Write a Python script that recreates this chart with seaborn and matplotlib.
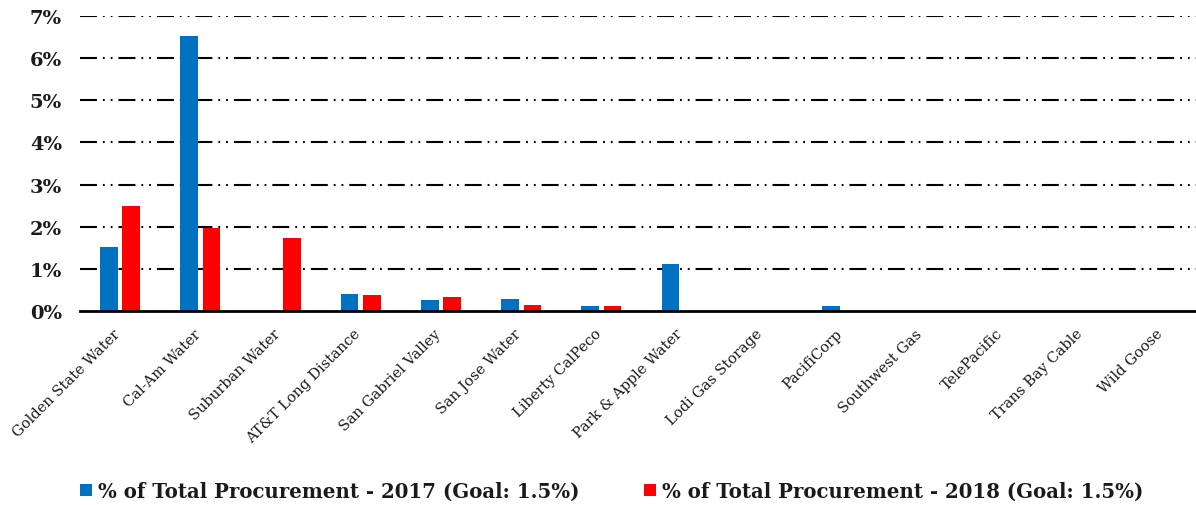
import matplotlib
matplotlib.use("Agg")
import matplotlib.pyplot as plt
import matplotlib.transforms as mtransforms
import seaborn as sns
import pandas as pd
from matplotlib.ticker import FuncFormatter

categories = ["Golden State Water", "Cal-Am Water", "Suburban Water", "AT&T Long Distance",
              "San Gabriel Valley", "San Jose Water", "Liberty CalPeco", "Park & Apple Water",
              "Lodi Gas Storage", "PacifiCorp", "Southwest Gas", "TelePacific",
              "Trans Bay Cable", "Wild Goose"]
series_names = ["% of Total Procurement - 2017 (Goal: 1.5%)",
                "% of Total Procurement - 2018 (Goal: 1.5%)"]
values_2017 = [1.53, 6.53, 0.0, 0.40, 0.26, 0.29, 0.13, 1.12, 0.0, 0.13, 0.0, 0.0, 0.0, 0.0]
values_2018 = [2.49, 1.97, 1.73, 0.37, 0.33, 0.14, 0.11, 0.0, 0.0, 0.0, 0.0, 0.0, 0.0, 0.0]
y_ticks = [0, 1, 2, 3, 4, 5, 6, 7]
colors = ["#0070C0", "#FF0000"]

df = pd.DataFrame({
    "company": categories * 2,
    "series": [series_names[0]] * len(categories) + [series_names[1]] * len(categories),
    "value": values_2017 + values_2018,
})

sns.set_theme(style="white")
plt.rcParams["font.family"] = ["DejaVu Serif"]
plt.rcParams["lines.scale_dashes"] = False

fig = plt.figure(figsize=(11.96, 5.06), dpi=100)
ax = fig.add_axes([80 / 1196, (506 - 312) / 506, 1123 / 1196, 295 / 506])

sns.barplot(data=df, x="company", y="value", hue="series", palette=colors,
            width=0.56, gap=0.21, ax=ax, saturation=1, edgecolor="none",
            errorbar=None, order=categories, hue_order=series_names)

ax.set_ylim(0, 7)
ax.set_xlim(-0.5, len(categories) - 0.5)
ax.set_yticks(y_ticks)
ax.yaxis.set_major_formatter(FuncFormatter(lambda v, p: f"{v:.0f}%"))
for y in y_ticks[1:]:
    ax.axhline(y, color="black", lw=1.5, linestyle=(0, (12.2, 4.3, 1.3, 4.3, 1.3, 4.3)),
               zorder=0.5)
ax.set_axisbelow(True)
ax.grid(False)
for s in ["left", "right", "top"]:
    ax.spines[s].set_visible(False)
ax.spines["bottom"].set_color("black")
ax.spines["bottom"].set_linewidth(2.0)
ax.spines["bottom"].set_zorder(5)
ax.tick_params(axis="y", length=0, pad=13, labelsize=14, labelcolor="#1a1a1a")
ax.tick_params(axis="x", length=0, pad=11, labelsize=10.5, labelcolor="#1a1a1a")
for t in ax.get_yticklabels():
    t.set_fontweight("bold")
ax.set_xticks(range(len(categories)))
ax.set_xticklabels(categories, rotation=45, ha="right", rotation_mode="anchor")
offset = mtransforms.ScaledTranslation(-7 / 100, 0, fig.dpi_scale_trans)
for t in ax.get_xticklabels():
    t.set_transform(t.get_transform() + offset)
ax.set_xlabel("")
ax.set_ylabel("")

handles, labels = ax.get_legend_handles_labels()
ax.get_legend().remove()
leg = fig.legend(handles, labels, loc="center left", bbox_to_anchor=(62 / 1196, 1 - 492 / 506),
                 ncol=2, frameon=False, handlelength=0.6, handleheight=0.6, handletextpad=0.3,
                 columnspacing=3.3, prop={"weight": "bold", "size": 14.2})
for t in leg.get_texts():
    t.set_color("#1a1a1a")

fig.savefig("out.png", dpi=100)
